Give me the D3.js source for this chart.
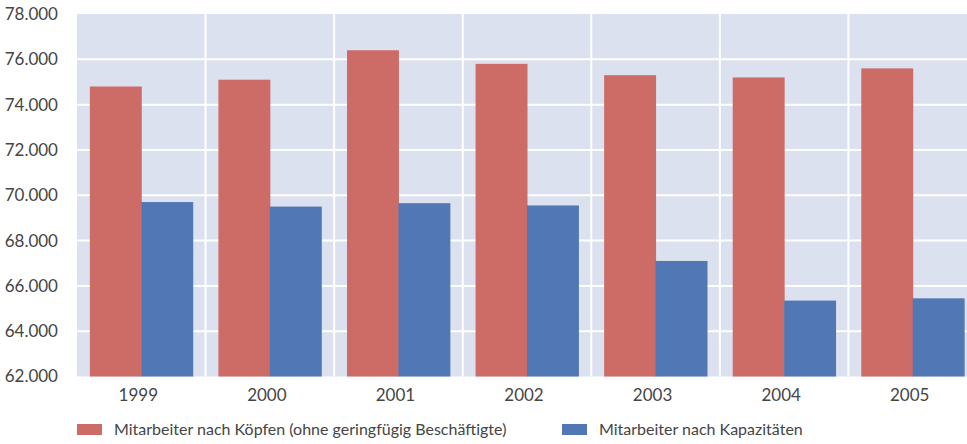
<!DOCTYPE html>
<html>
<head>
<meta charset="utf-8">
<script src="https://cdn.jsdelivr.net/npm/d3@7"></script>
<style>
  html, body { margin: 0; padding: 0; background: #ffffff; }
  svg { display: block; }
  text { font-family: Lato, "Open Sans", sans-serif; fill: #454545; }
</style>
</head>
<body>
<svg id="chart" width="967" height="444"></svg>
<script>
// Mitarbeiterentwicklung 1999–2005
const years = ["1999", "2000", "2001", "2002", "2003", "2004", "2005"];
const seriesNames = [
  "Mitarbeiter nach Köpfen (ohne geringfügig Beschäftigte)",
  "Mitarbeiter nach Kapazitäten"
];
const koepfe = [74800, 75100, 76400, 75800, 75300, 75200, 75600];
const kapazitaeten = [69700, 69500, 69650, 69550, 67100, 65350, 65450];
const yTicks = [62000, 64000, 66000, 68000, 70000, 72000, 74000, 76000, 78000];
const colors = ["#CD6B66", "#5177B4"];

const svg = d3.select("#chart");
const plot = { left: 77, right: 977, top: 14, bottom: 376.5 };

const x = d3.scaleBand().domain(years).range([plot.left, plot.right]).padding(0);
const xSub = d3.scaleBand().domain([0, 1]).range([0, x.bandwidth()])
  .paddingInner(0).paddingOuter(0.25);
const y = d3.scaleLinear().domain([62000, 78000]).range([plot.bottom, plot.top]);

const fmt = v => d3.format(",")(v).replace(/,/g, ".");

// plot background
svg.append("rect")
  .attr("x", plot.left).attr("y", plot.top)
  .attr("width", plot.right - plot.left).attr("height", plot.bottom - plot.top)
  .attr("fill", "#DCE1EF");

// grid
const grid = svg.append("g").attr("stroke", "#ffffff").attr("stroke-width", 2);
grid.selectAll("line.h").data(yTicks.slice(1, -1)).join("line")
  .attr("class", "h")
  .attr("x1", plot.left).attr("x2", plot.right)
  .attr("y1", d => y(d)).attr("y2", d => y(d));
grid.selectAll("line.v").data(years.slice(1)).join("line")
  .attr("class", "v")
  .attr("x1", d => x(d)).attr("x2", d => x(d))
  .attr("y1", plot.top).attr("y2", plot.bottom);

// bars
const rows = years.map((yr, i) => ({ year: yr, values: [koepfe[i], kapazitaeten[i]] }));
const groups = svg.append("g").selectAll("g").data(rows).join("g")
  .attr("transform", d => `translate(${x(d.year)},0)`);
groups.selectAll("rect").data(d => d.values.map((v, k) => ({ k, v }))).join("rect")
  .attr("x", d => xSub(d.k))
  .attr("width", xSub.bandwidth() + 0.5)
  .attr("y", d => y(d.v))
  .attr("height", d => plot.bottom - y(d.v))
  .attr("fill", d => colors[d.k]);

// y axis
const yAxis = svg.append("g")
  .attr("transform", `translate(${plot.left - 19},0)`)
  .call(d3.axisLeft(y).tickValues(yTicks).tickFormat(fmt).tickSize(0).tickPadding(0));
yAxis.select(".domain").remove();
yAxis.selectAll("text").style("font-size", "17px").attr("fill", "#454545");

// x axis
const xAxis = svg.append("g")
  .attr("transform", `translate(-3,${plot.bottom})`)
  .call(d3.axisBottom(x).tickSize(0).tickPadding(12));
xAxis.select(".domain").remove();
xAxis.selectAll("text").style("font-size", "17px").attr("fill", "#454545");

// legend
const legendItems = [
  { name: seriesNames[0], color: colors[0], x: 77 },
  { name: seriesNames[1], color: colors[1], x: 562 }
];
const legend = svg.append("g").selectAll("g").data(legendItems).join("g")
  .attr("transform", d => `translate(${d.x},424)`);
legend.append("rect").attr("width", 25).attr("height", 11).attr("fill", d => d.color);
legend.append("text").attr("x", 37).attr("y", 5.5).attr("dy", "0.35em")
  .style("font-size", "16px").text(d => d.name);
</script>
</body>
</html>
